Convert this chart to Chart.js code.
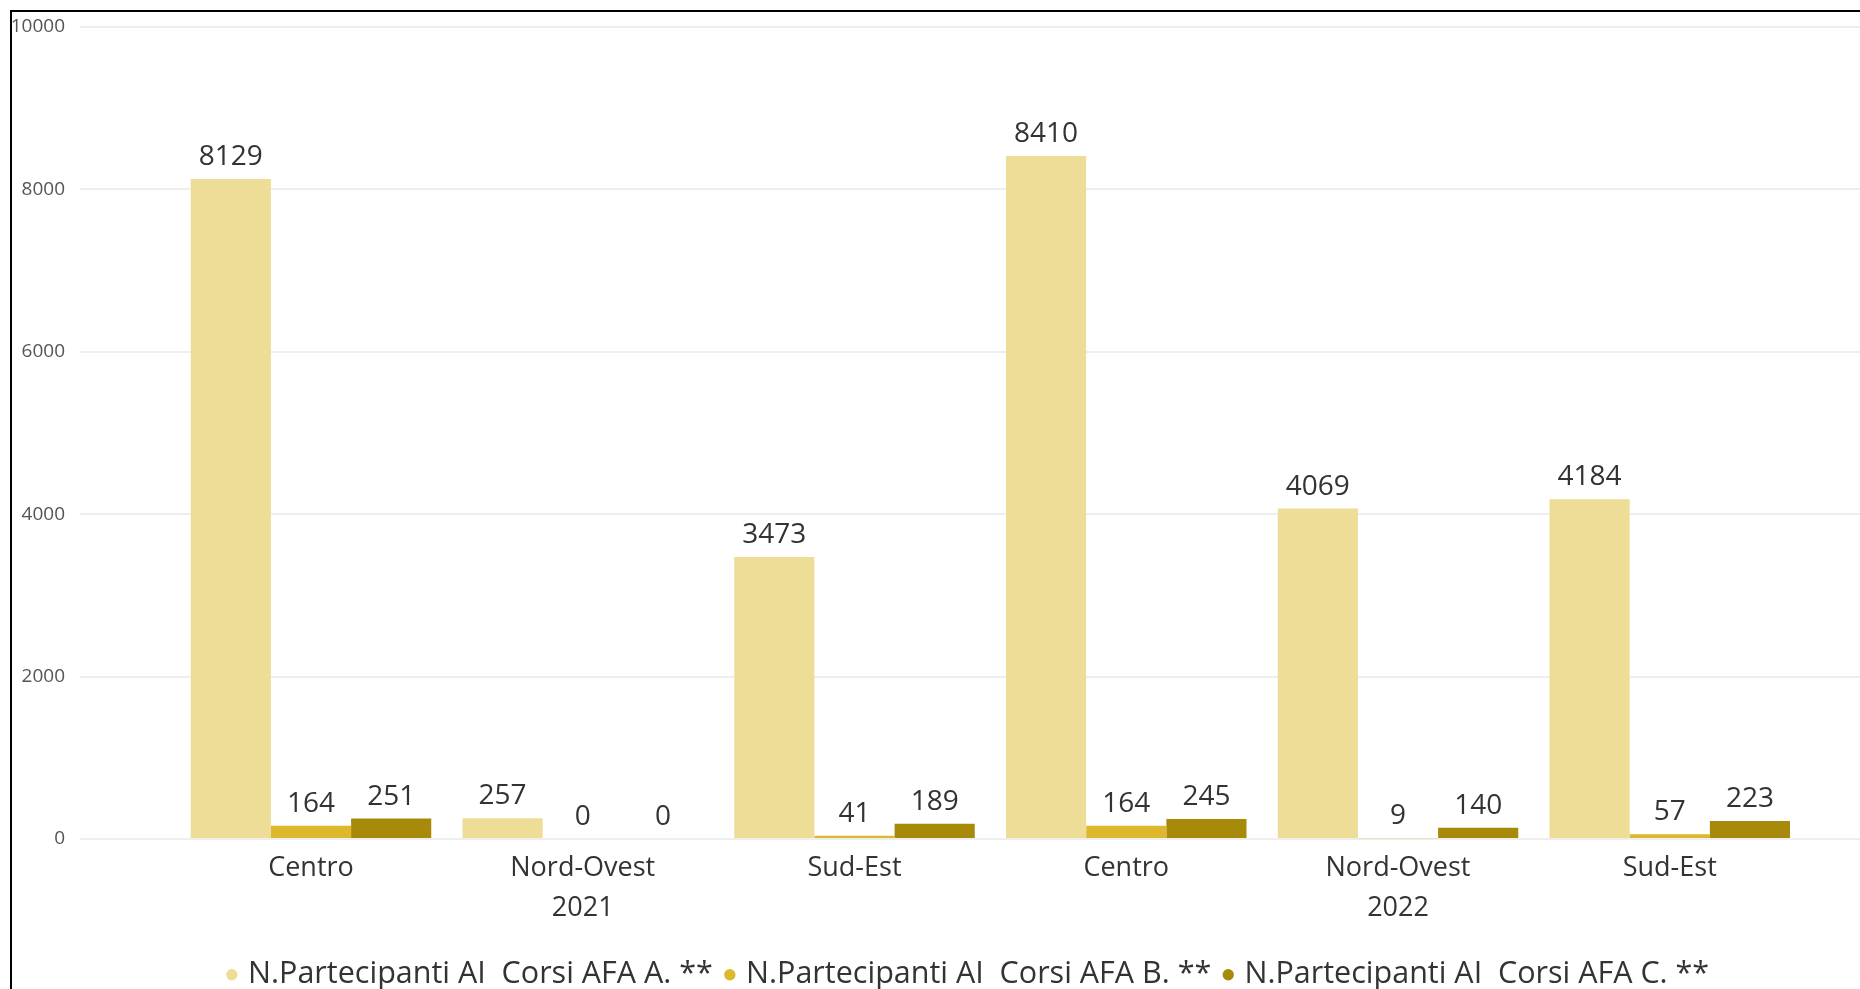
<!DOCTYPE html>
<html>
<head>
<meta charset="utf-8">
<script src="https://cdn.jsdelivr.net/npm/chart.js@4"></script>
<style>
  html, body { margin: 0; padding: 0; background: #fff; overflow: hidden; }
  #frame {
    position: absolute; left: 10px; top: 10px;
    width: 1850px; height: 990px;
    box-sizing: border-box;
    border-left: 2px solid #000; border-top: 2px solid #000;
  }
  #box { position: relative; width: 1848px; height: 988px; }
</style>
</head>
<body>
<div id="frame"><div id="box"><canvas id="chart"></canvas></div></div>
<script>
// categories (region, with year on the middle one)
const xLabels = [['Centro'], ['Nord-Ovest', '2021'], ['Sud-Est'], ['Centro'], ['Nord-Ovest', '2022'], ['Sud-Est']];
const seriesNames = [
    'N.Partecipanti AI  Corsi AFA A. **',
    'N.Partecipanti AI  Corsi AFA B. **',
    'N.Partecipanti AI  Corsi AFA C. **'
];
const afaA = [8129, 257, 3473, 8410, 4069, 4184];
const afaB = [164, 0, 41, 164, 9, 57];
const afaC = [251, 0, 189, 245, 140, 223];
const yTicks = [0, 2000, 4000, 6000, 8000, 10000];

const colors = ['#EDDD97', '#DDB82C', '#A88A0B'];
const textColor = '#333333';
const font = "'Open Sans', 'Noto Sans', sans-serif";

const toPoints = arr => arr.map((v, i) => ({ x: i, y: v }));

// values above the bars
const valueLabels = {
    id: 'valueLabels',
    afterDatasetsDraw(chart) {
        const ctx = chart.ctx;
        ctx.save();
        ctx.font = '28px ' + font;
        ctx.fillStyle = textColor;
        ctx.textAlign = 'center';
        ctx.textBaseline = 'alphabetic';
        chart.data.datasets.forEach((ds, di) => {
            chart.getDatasetMeta(di).data.forEach((bar, i) => {
                ctx.fillText(String(ds.data[i].y), bar.x, bar.y - 14);
            });
        });
        ctx.restore();
    }
};

new Chart(document.getElementById('chart'), {
    type: 'bar',
    data: {
        datasets: [afaA, afaB, afaC].map((arr, i) => ({
            label: seriesNames[i],
            data: toPoints(arr),
            backgroundColor: colors[i],
            borderWidth: 0,
            categoryPercentage: 0.885,
            barPercentage: 1
        }))
    },
    options: {
        responsive: true,
        maintainAspectRatio: false,
        animation: false,
        layout: { padding: { top: 15, right: 0, left: 0, bottom: 0 } },
        plugins: {
            legend: {
                position: 'bottom',
                fullSize: false,
                labels: {
                    usePointStyle: true,
                    pointStyle: 'circle',
                    boxWidth: 2,
                    boxHeight: 8,
                    padding: 16,
                    color: textColor,
                    font: { family: font, size: 30.5 }
                }
            },
            tooltip: { enabled: false }
        },
        scales: {
            x: {
                type: 'linear',
                offset: false,
                min: -0.85,
                max: 5.70,
                grid: { display: false },
                border: { display: false },
                afterBuildTicks: s => { s.ticks = xLabels.map((_, i) => ({ value: i })); },
                afterFit: s => { s.height = 104.5; },
                ticks: {
                    autoSkip: false,
                    maxRotation: 0,
                    padding: 1,
                    color: textColor,
                    font: { family: font, size: 27, lineHeight: 1.5 },
                    callback: v => xLabels[v]
                }
            },
            y: {
                min: 0,
                max: 10000,
                afterBuildTicks: s => { s.ticks = yTicks.map(v => ({ value: v })); },
                afterFit: s => { s.width = 68; s.paddingTop = 12; },
                grid: { color: '#eeeeee', lineWidth: 2, drawTicks: false },
                border: { display: false },
                ticks: {
                    padding: 15,
                    color: '#555555',
                    font: { family: font, size: 19 },
                    callback: v => String(v)
                }
            }
        }
    },
    plugins: [valueLabels]
});
</script>
</body>
</html>
